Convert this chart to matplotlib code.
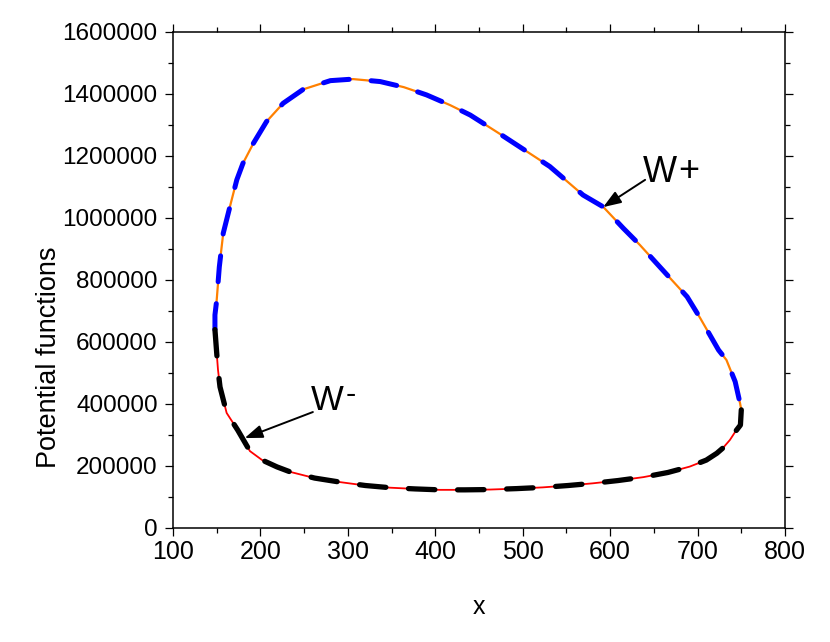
import matplotlib
matplotlib.use("Agg")
import matplotlib.pyplot as plt
from matplotlib.ticker import MultipleLocator

plt.rcParams["font.family"] = ["Liberation Sans", "DejaVu Sans"]

# upper branch W+ (left junction -> peak -> right junction)
upper_x = [148, 148, 150, 153, 157.5, 165, 173, 180, 192, 207, 226, 249, 280, 306,
           337, 364, 390, 417, 440, 474, 531, 569, 592, 615, 634, 653, 688, 703,
           724, 733, 743, 748.6, 750]
upper_y = [640000, 687000, 735000, 842000, 951000, 1035000, 1123000, 1176000,
           1241000, 1311000, 1370000, 1415000, 1443000, 1448000, 1440000, 1422000,
           1397000, 1364000, 1332000, 1271000, 1166000, 1074000, 1036000, 967000,
           913000, 854000, 746000, 677000, 574000, 542000, 472000, 402000, 381000]

# lower branch W- (left junction -> bottom -> right junction)
lower_x = [148, 150, 151.5, 153.8, 161.4, 174, 188, 202, 219, 234, 262, 291, 320,
           348, 377, 405, 434, 463, 493, 523, 552, 580, 609, 638, 666, 691, 710,
           722, 729, 737, 743, 749, 750]
lower_y = [640000, 565000, 510000, 455000, 371000, 316000, 248000, 219000, 197000,
           181000, 161000, 148000, 137000, 130000, 126000, 123000, 123000, 124000,
           127000, 131000, 137000, 144000, 153000, 164000, 179000, 198000, 219000,
           241000, 258000, 284000, 310000, 332000, 381000]

fig = plt.figure(figsize=(8.3, 6.42), dpi=100)
ax = fig.add_axes([0.2084, 0.1776, 0.7374, 0.7726])

ax.plot(upper_x, upper_y, color="#ff8000", lw=1.6, zorder=2)
ax.plot(upper_x, upper_y, color="#0000ff", lw=3.6, dashes=(5.2, 4.4),
        dash_capstyle="round", zorder=3)
ax.plot(lower_x, lower_y, color="#ff0000", lw=1.3, zorder=2)
ax.plot(lower_x, lower_y, color="black", lw=3.8, dashes=(5.0, 4.3),
        dash_capstyle="round", zorder=3)

# labels with arrows
arrow = dict(arrowstyle="-|>,head_length=0.6,head_width=0.22", color="black",
             lw=1.4, mutation_scale=18, shrinkA=0, shrinkB=0)
ax.annotate("", xy=(592, 1035000), xytext=(640, 1123000), arrowprops=arrow)
ax.annotate("", xy=(182, 290000), xytext=(260, 374000), arrowprops=arrow)
wp = ax.text(637, 1115000, "W", fontsize=26, ha="left", va="baseline")
ax.annotate("+", xy=(1.0, 1.0), xycoords=wp, xytext=(1, 1), textcoords="offset points",
            fontsize=26, ha="left", va="top")
wm = ax.text(258, 380000, "W", fontsize=25, ha="left", va="baseline")
ax.annotate("-", xy=(1.0, 1.0), xycoords=wm, xytext=(1, 3), textcoords="offset points",
            fontsize=22, ha="left", va="top")

ax.set_xlim(100, 800)
ax.set_ylim(0, 1600000)
ax.xaxis.set_major_locator(MultipleLocator(100))
ax.xaxis.set_minor_locator(MultipleLocator(50))
ax.yaxis.set_major_locator(MultipleLocator(200000))
ax.yaxis.set_minor_locator(MultipleLocator(100000))
ax.ticklabel_format(axis="y", style="plain", useOffset=False)

ax.tick_params(which="both", direction="out", top=True, right=True, width=0.9)
ax.tick_params(which="major", length=6)
ax.tick_params(which="minor", length=3.5)
ax.tick_params(axis="x", which="major", labelsize=18, pad=3)
ax.tick_params(axis="y", which="major", labelsize=17.5, pad=5)
for sp in ax.spines.values():
    sp.set_linewidth(1.1)

ax.set_xlabel("x", fontsize=18, labelpad=22)
ax.set_ylabel("Potential functions", fontsize=19.5, labelpad=0, y=0.345)

fig.savefig("out.png", dpi=100)
